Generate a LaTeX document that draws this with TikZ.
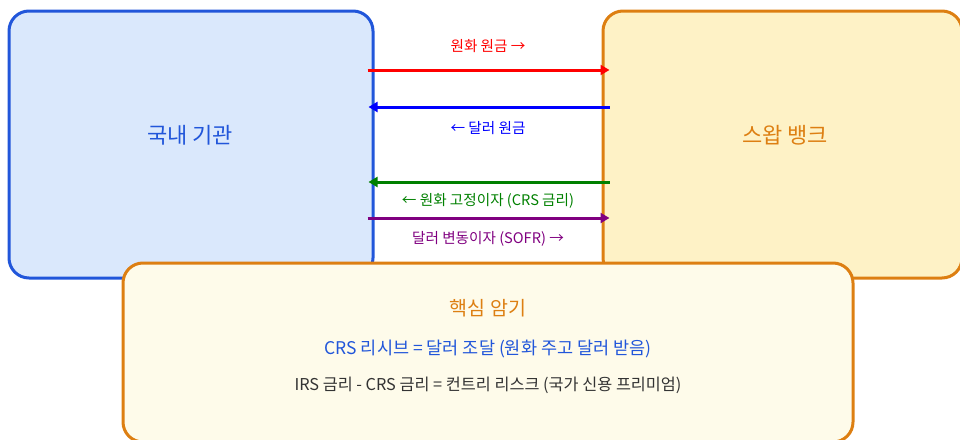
\documentclass[tikz,border=0pt]{standalone}
\usepackage{fontspec}
\setmainfont{Noto Sans CJK KR}
\usetikzlibrary{arrows.meta}
\definecolor{lblue}{HTML}{2156DA}
\definecolor{lfill}{HTML}{DAE8FC}
\definecolor{oline}{HTML}{DD7F12}
\definecolor{ofill}{HTML}{FEF2C6}
\definecolor{bfill}{HTML}{FEFBEA}
\definecolor{gtext}{HTML}{333333}
\definecolor{agreen}{HTML}{008000}
\definecolor{apurple}{HTML}{800080}
\tikzset{
  box/.style={draw, line width=3pt, rounded corners=20pt, inner sep=0pt},
  flow/.style={line width=3pt, -{Triangle[length=9pt,width=10pt]}},
  flowlbl/.style={font=\fontsize{14.6}{16}\selectfont, inner sep=0pt, anchor=center},
}
\begin{document}
\begin{tikzpicture}[x=1pt,y=-1pt]
\useasboundingbox (0,0) rectangle (960,439);
% boxes
\node[box, draw=lblue, fill=lfill, minimum width=364pt, minimum height=267pt] (L) at (191,144.5) {};
\node[box, draw=oline, fill=ofill, minimum width=359pt, minimum height=267pt] (R) at (782.5,144.5) {};
\node[font=\fontsize{22}{26}\selectfont, text=lblue] (Lt) at (190,135) {국내 기관};
\node[font=\fontsize{22}{26}\selectfont, text=oline] (Rt) at (785,135) {스왑 뱅크};
% arrows
\draw[flow, red] ([xshift=-7pt,yshift=74.5pt]L.east) -- ([xshift=8pt,yshift=74.5pt]R.west);
\draw[flow, blue] ([xshift=8pt,yshift=37.5pt]R.west) -- ([xshift=-6pt,yshift=37.5pt]L.east);
\draw[flow, agreen] ([xshift=8pt,yshift=-37.5pt]R.west) -- ([xshift=-6pt,yshift=-37.5pt]L.east);
\draw[flow, apurple] ([xshift=-7pt,yshift=-73.5pt]L.east) -- ([xshift=8pt,yshift=-73.5pt]R.west);
\node[flowlbl, text=red] (l1) at (488,46) {원화 원금 →};
\node[flowlbl, text=blue] (l2) at (488,128) {← 달러 원금};
\node[flowlbl, text=agreen] (l3) at (488,201) {← 원화 고정이자 (CRS 금리)};
\node[flowlbl, text=apurple] (l4) at (488,239) {달러 변동이자 (SOFR) →};
% bottom box
\node[box, draw=oline, fill=bfill, minimum width=730pt, minimum height=179pt] (B) at (488,352.5) {};
\node[font=\fontsize{19.5}{23}\selectfont, text=oline] (B1) at (488,308) {핵심 암기};
\node[font=\fontsize{17.5}{21}\selectfont, text=lblue] (B2) at (488,349) {CRS 리시브 = 달러 조달 (원화 주고 달러 받음)};
\node[font=\fontsize{16.3}{19}\selectfont, text=gtext] (B3) at (488,385) {IRS 금리 - CRS 금리 = 컨트리 리스크 (국가 신용 프리미엄)};
\end{tikzpicture}
\end{document}
